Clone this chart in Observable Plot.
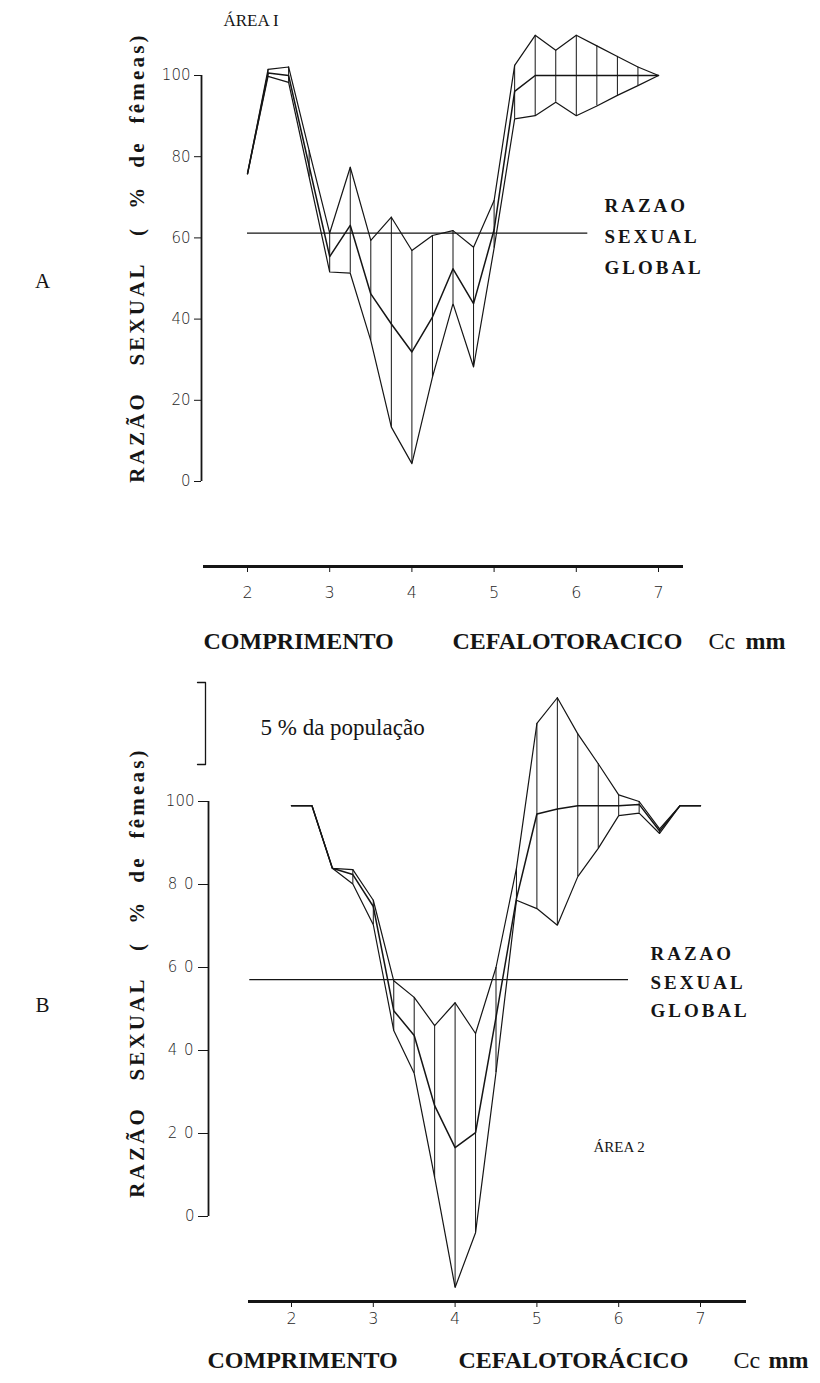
<!DOCTYPE html>
<html><head><meta charset="utf-8">
<script src="https://cdn.jsdelivr.net/npm/d3@7"></script>
<script src="https://cdn.jsdelivr.net/npm/@observablehq/plot@0.6"></script>
<style>
html,body{margin:0;padding:0;background:#fff;}
#chart{width:820px;}
svg{display:block;}
</style></head><body><div id="chart"></div>
<script>
// ---- data ----
const lengths = [2, 2.25, 2.5, 2.75, 3, 3.25, 3.5, 3.75, 4, 4.25, 4.5, 4.75, 5, 5.25, 5.5, 5.75, 6, 6.25, 6.5, 6.75, 7];
const xTicks = [2, 3, 4, 5, 6, 7];
const xTickLabels = ["2", "3", "4", "5", "6", "7"];
const yTicks = [0, 20, 40, 60, 80, 100];
const yTickLabelsA = ["0", "20", "40", "60", "80", "100"];
const yTickLabelsB = ["0", "2 0", "4 0", "6 0", "8 0", "100"];

// Área 1
const upperA = [75.8, 101.5, 102.1, 81.5, 61.2, 77.4, 59.4, 65.1, 56.9, 60.6, 61.8, 57.7, 69.2, 102.5, 109.9, 106.2, 109.9, 107.3, 104.7, 102.1, 100];
const meanA  = [75.8, 100.6, 100.0, 77.7, 55.4, 63.1, 46.2, 38.8, 31.9, 40.5, 52.4, 43.8, 62.0, 96.1, 100, 100, 100, 100, 100, 100, 100];
const lowerA = [75.8, 99.8, 98.3, 75.0, 51.6, 51.3, 34.7, 13.4, 4.4, 25.7, 43.8, 28.2, 57.5, 89.3, 90.1, 93.4, 90.1, 92.5, 95.1, 97.5, 100];
const globalA = 61.2;

// Área 2
const upperB = [99, 99, 83.9, 83.6, 76.2, 56.8, 52.8, 46.0, 51.5, 44.1, 60.0, 83.9, 118.8, 125.0, 116.3, 109.1, 101.6, 100.0, 93.4, 99, 99];
const meanB  = [99, 99, 83.9, 82.4, 74.7, 49.6, 43.6, 26.7, 16.6, 20.2, 48.0, 76.6, 97.0, 98.2, 99, 99, 99, 99.3, 92.9, 99, 99];
const lowerB = [99, 99, 83.9, 80.1, 70.3, 44.8, 34.5, 9.4, -17.1, -3.9, 34.7, 76.2, 74.2, 70.2, 81.9, 88.7, 96.6, 97.2, 92.3, 99, 99];
const globalB = 57.1;

const yTitle = "RAZÃO\u00A0\u00A0\u00A0SEXUAL\u00A0\u00A0\u00A0(\u00A0\u00A0%\u00A0\u00A0de\u00A0\u00A0fêmeas)";
const globalLabel = "RAZAO\nSEXUAL\nGLOBAL";

const serif = "Liberation Serif";
const sans = "DejaVu Sans";

function drawPanel(p) {
  const xPix = d3.scaleLinear([2, 7], p.xRange);
  const yPix = d3.scaleLinear([0, 100], p.yRange);
  const rows = lengths.map((x, i) => ({x, upper: p.upper[i], mean: p.mean[i], lower: p.lower[i]}));
  const at = (px, py) => ({frameAnchor: "top-left", dx: px - p.mL, dy: py - p.mT});
  const marks = [
    Plot.frame({anchor: "bottom", strokeWidth: 3}),
    Plot.axisX({ticks: xTicks, tickFormat: d => xTickLabels[xTicks.indexOf(d)], label: null,
                tickSize: 6, tickPadding: p.xTickPadding, fontSize: 16, fontFamily: sans, fontWeight: 300, fill: "#1e1e1e"}),
    Plot.ruleX([xPix.invert(p.yAxisPx)], {y1: 0, y2: 100, strokeWidth: 1.8}),
    Plot.axisY({ticks: yTicks, tickFormat: d => p.yTickLabels[yTicks.indexOf(d)], label: null, dx: p.yAxisPx - p.mL,
                tickSize: p.yTickSize, tickPadding: 4, fontSize: 15, fontFamily: sans, fontWeight: 300, fill: "#1e1e1e"}),
    Plot.ruleY([p.global], {x1: p.globalX[0], x2: p.globalX[1], strokeWidth: 1.2}),
    Plot.ruleX(rows, {x: "x", y1: "lower", y2: "upper", strokeWidth: 1}),
    Plot.line(rows, {x: "x", y: "upper", strokeWidth: 1.2}),
    Plot.line(rows, {x: "x", y: "lower", strokeWidth: 1.2}),
    Plot.line(rows, {x: "x", y: "mean", strokeWidth: 1.5}),
    Plot.text([globalLabel], {x: xPix.invert(p.globalLabelPx), y: p.global, textAnchor: "start", lineAnchor: "middle",
               lineHeight: p.globalLineHeight, fontFamily: serif, fontWeight: "bold", fontSize: 19}),
    Plot.text([yTitle], {...at(p.yTitle[0], p.yTitle[1]), rotate: -90, textAnchor: "middle", lineAnchor: "middle",
               fontFamily: serif, fontWeight: "bold", fontSize: 21}),
    Plot.text([p.letter], {...at(42, p.letterY), textAnchor: "middle", lineAnchor: "middle", fontFamily: serif, fontSize: 21}),
    ...p.xTitle.map(([t, px, w]) => Plot.text([t], {...at(px, p.xTitleY), textAnchor: "start", lineAnchor: "middle",
               fontFamily: serif, fontWeight: w, fontSize: 24})),
    ...p.notes.map(([t, px, py, fs]) => Plot.text([t], {...at(px, py), textAnchor: "start", lineAnchor: "middle",
               fontFamily: serif, fontSize: fs}))
  ];
  if (p.bracket) {
    const b = p.bracket;
    const pts = [[b.x - b.tick, b.top], [b.x, b.top], [b.x, b.bottom], [b.x - b.tick, b.bottom]]
      .map(([px, py]) => ({x: xPix.invert(px), y: yPix.invert(py)}));
    marks.push(Plot.line(pts, {x: "x", y: "y", strokeWidth: 1.3}));
  }
  const svg = Plot.plot({
    width: 820, height: p.height,
    marginLeft: p.mL, marginRight: p.mR, marginTop: p.mT, marginBottom: p.mB,
    x: {domain: [2, 7], range: p.xRange},
    y: {domain: [0, 100], range: p.yRange},
    style: {background: "white", color: "#151515", fontFamily: sans, fontSize: "14px", overflow: "visible"},
    marks
  });
  d3.select(svg).selectAll("text").each(function () {
    const t = this.textContent;
    if (t.startsWith("RAZÃO")) this.setAttribute("letter-spacing", "3.2");
    else if (t.startsWith("RAZAO")) this.setAttribute("letter-spacing", "3");
    else if (/^[0-9]( [0-9])+$/.test(t)) this.setAttribute("letter-spacing", "1");
  });
  return svg;
}

const panelA = drawPanel({
  height: 662, mL: 204, mR: 139, mT: 75, mB: 96,
  xRange: [247, 658], yRange: [481, 75],
  yAxisPx: 201, yTickSize: 7, xTickPadding: 14,
  yTickLabels: yTickLabelsA,
  upper: upperA, mean: meanA, lower: lowerA,
  global: globalA, globalX: [2, 6.14], globalLabelPx: 604, globalLineHeight: 1.62,
  yTitle: [137, 257], letter: "A", letterY: 281,
  xTitleY: 641, xTitle: [["COMPRIMENTO", 203, "bold"], ["CEFALOTORACICO", 452, "bold"], ["Cc", 708, "normal"], ["mm", 745, "bold"]],
  notes: [["ÁREA I", 223, 20, 17]]
});

const panelB = drawPanel({
  height: 721, mL: 249, mR: 76, mT: 139, mB: 82,
  xRange: [291, 700], yRange: [554, 139],
  yAxisPx: 208, yTickSize: 10, xTickPadding: 5,
  yTickLabels: yTickLabelsB,
  upper: upperB, mean: meanB, lower: lowerB,
  global: globalB, globalX: [1.49, 6.12], globalLabelPx: 650, globalLineHeight: 1.5,
  yTitle: [137, 310], letter: "B", letterY: 343,
  xTitleY: 698, xTitle: [["COMPRIMENTO", 207, "bold"], ["CEFALOTORÁCICO", 458, "bold"], ["Cc", 733, "normal"], ["mm", 768, "bold"]],
  notes: [["5 % da população", 260, 65, 23], ["ÁREA 2", 593, 485, 15]],
  bracket: {x: 205, tick: 8, top: 20, bottom: 102}
});

document.getElementById("chart").append(panelA, panelB);
</script>
</body></html>
